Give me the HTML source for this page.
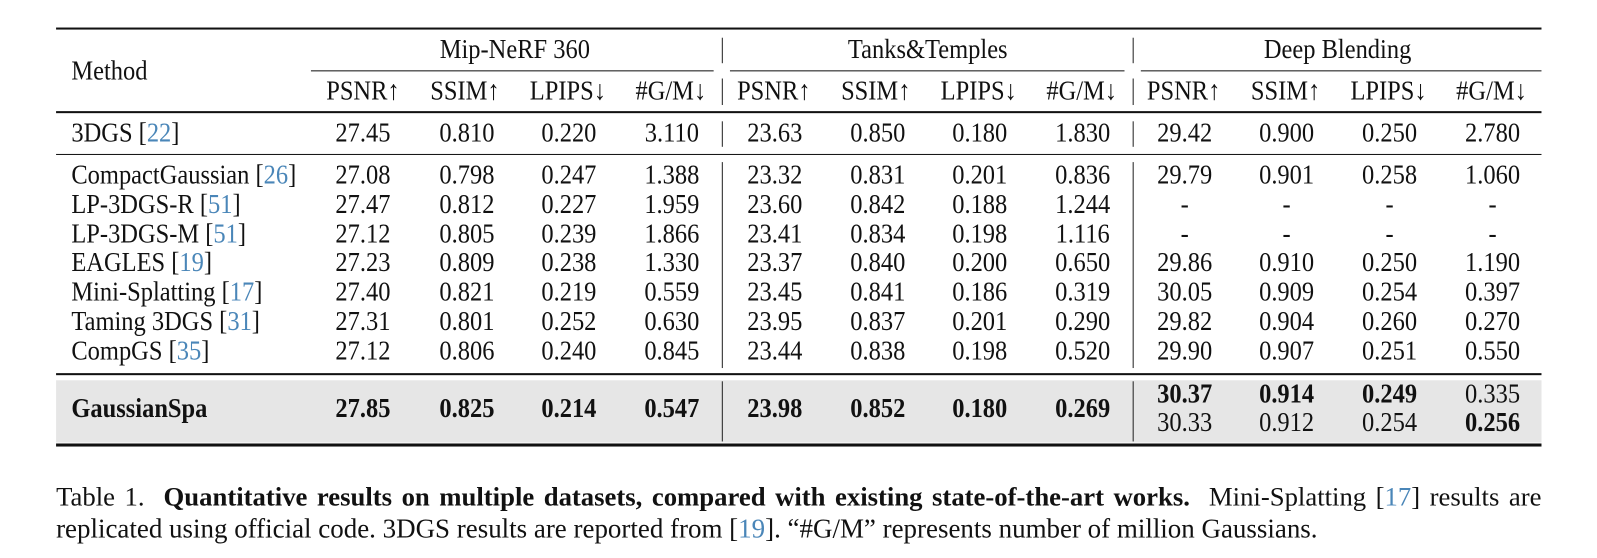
<!DOCTYPE html>
<html><head><meta charset="utf-8">
<style>
html,body{margin:0;padding:0;background:#fff;}
body{width:1597px;height:547px;position:relative;overflow:hidden;font-family:"Liberation Serif","DejaVu Serif",serif;font-size:24px;color:#111;}
#w{position:absolute;left:0;top:0;width:1597px;height:547px;transform:scale(1.0195);transform-origin:0 0;}
.c{position:absolute;transform:translate(-50%,-50%) scaleY(1.12);white-space:nowrap;line-height:1;}
.l{position:absolute;transform:translate(0,-50%) scaleY(1.12);transform-origin:left center;white-space:nowrap;line-height:1;}
.b{font-weight:bold;}
.r{color:#4a86b8;}
.h{position:absolute;background:#111;}
.v{position:absolute;width:1px;background:#222;}
.cap{position:absolute;left:55px;width:1457px;line-height:31px;font-size:26.2px;}
</style></head><body>
<div id="w">
<!-- grey band -->
<div style="position:absolute;left:55px;top:373px;width:1457px;height:61px;background:#e6e6e6;"></div>
<!-- horizontal rules -->
<div class="h" style="left:55px;top:27px;width:1457px;height:2px;"></div>
<div class="h" style="left:305px;top:69px;width:395px;height:1px;"></div>
<div class="h" style="left:716px;top:69px;width:387px;height:1px;"></div>
<div class="h" style="left:1119px;top:69px;width:393px;height:1px;"></div>
<div class="h" style="left:55px;top:109px;width:1457px;height:2px;"></div>
<div class="h" style="left:55px;top:151px;width:1457px;height:1px;"></div>
<div class="h" style="left:55px;top:366px;width:1457px;height:2px;"></div>
<div class="h" style="left:55px;top:435px;width:1457px;height:3px;"></div>
<!-- vertical lines -->
<div class="v" style="left:708px;top:37px;height:25px;"></div>
<div class="v" style="left:708px;top:77px;height:26px;"></div>
<div class="v" style="left:708px;top:119px;height:25px;"></div>
<div class="v" style="left:708px;top:159px;height:202px;"></div>
<div class="v" style="left:708px;top:374px;height:59px;"></div>
<div class="v" style="left:1111px;top:37px;height:25px;"></div>
<div class="v" style="left:1111px;top:77px;height:26px;"></div>
<div class="v" style="left:1111px;top:119px;height:25px;"></div>
<div class="v" style="left:1111px;top:159px;height:202px;"></div>
<div class="v" style="left:1111px;top:374px;height:59px;"></div>

<!-- header -->
<div class="l" style="left:70px;top:70px;">Method</div>
<div class="c" style="left:505px;top:49px;">Mip-NeRF 360</div>
<div class="c" style="left:910px;top:49px;">Tanks&amp;Temples</div>
<div class="c" style="left:1312px;top:49px;">Deep Blending</div>

<div class="c" style="left:356px;top:90px;">PSNR↑</div>
<div class="c" style="left:456px;top:90px;">SSIM↑</div>
<div class="c" style="left:557px;top:90px;">LPIPS↓</div>
<div class="c" style="left:658px;top:90px;">#G/M↓</div>
<div class="c" style="left:759px;top:90px;">PSNR↑</div>
<div class="c" style="left:859px;top:90px;">SSIM↑</div>
<div class="c" style="left:960px;top:90px;">LPIPS↓</div>
<div class="c" style="left:1061px;top:90px;">#G/M↓</div>
<div class="c" style="left:1161px;top:90px;">PSNR↑</div>
<div class="c" style="left:1261px;top:90px;">SSIM↑</div>
<div class="c" style="left:1362px;top:90px;">LPIPS↓</div>
<div class="c" style="left:1463px;top:90px;">#G/M↓</div>

<!-- 3DGS -->
<div class="l" style="left:70px;top:131px;">3DGS [<span class="r">22</span>]</div>
<div class="c" style="left:356px;top:131px;">27.45</div>
<div class="c" style="left:458px;top:131px;">0.810</div>
<div class="c" style="left:558px;top:131px;">0.220</div>
<div class="c" style="left:659px;top:131px;">3.110</div>
<div class="c" style="left:760px;top:131px;">23.63</div>
<div class="c" style="left:861px;top:131px;">0.850</div>
<div class="c" style="left:961px;top:131px;">0.180</div>
<div class="c" style="left:1062px;top:131px;">1.830</div>
<div class="c" style="left:1162px;top:131px;">29.42</div>
<div class="c" style="left:1262px;top:131px;">0.900</div>
<div class="c" style="left:1363px;top:131px;">0.250</div>
<div class="c" style="left:1464px;top:131px;">2.780</div>

<!-- CompactGaussian -->
<div class="l" style="left:70px;top:172px;">CompactGaussian [<span class="r">26</span>]</div>
<div class="c" style="left:356px;top:172px;">27.08</div>
<div class="c" style="left:458px;top:172px;">0.798</div>
<div class="c" style="left:558px;top:172px;">0.247</div>
<div class="c" style="left:659px;top:172px;">1.388</div>
<div class="c" style="left:760px;top:172px;">23.32</div>
<div class="c" style="left:861px;top:172px;">0.831</div>
<div class="c" style="left:961px;top:172px;">0.201</div>
<div class="c" style="left:1062px;top:172px;">0.836</div>
<div class="c" style="left:1162px;top:172px;">29.79</div>
<div class="c" style="left:1262px;top:172px;">0.901</div>
<div class="c" style="left:1363px;top:172px;">0.258</div>
<div class="c" style="left:1464px;top:172px;">1.060</div>

<!-- LP-3DGS-R -->
<div class="l" style="left:70px;top:201px;">LP-3DGS-R [<span class="r">51</span>]</div>
<div class="c" style="left:356px;top:201px;">27.47</div>
<div class="c" style="left:458px;top:201px;">0.812</div>
<div class="c" style="left:558px;top:201px;">0.227</div>
<div class="c" style="left:659px;top:201px;">1.959</div>
<div class="c" style="left:760px;top:201px;">23.60</div>
<div class="c" style="left:861px;top:201px;">0.842</div>
<div class="c" style="left:961px;top:201px;">0.188</div>
<div class="c" style="left:1062px;top:201px;">1.244</div>
<div class="c" style="left:1162px;top:201px;">-</div>
<div class="c" style="left:1262px;top:201px;">-</div>
<div class="c" style="left:1363px;top:201px;">-</div>
<div class="c" style="left:1464px;top:201px;">-</div>

<!-- LP-3DGS-M -->
<div class="l" style="left:70px;top:230px;">LP-3DGS-M [<span class="r">51</span>]</div>
<div class="c" style="left:356px;top:230px;">27.12</div>
<div class="c" style="left:458px;top:230px;">0.805</div>
<div class="c" style="left:558px;top:230px;">0.239</div>
<div class="c" style="left:659px;top:230px;">1.866</div>
<div class="c" style="left:760px;top:230px;">23.41</div>
<div class="c" style="left:861px;top:230px;">0.834</div>
<div class="c" style="left:961px;top:230px;">0.198</div>
<div class="c" style="left:1062px;top:230px;">1.116</div>
<div class="c" style="left:1162px;top:230px;">-</div>
<div class="c" style="left:1262px;top:230px;">-</div>
<div class="c" style="left:1363px;top:230px;">-</div>
<div class="c" style="left:1464px;top:230px;">-</div>

<!-- EAGLES -->
<div class="l" style="left:70px;top:258px;">EAGLES [<span class="r">19</span>]</div>
<div class="c" style="left:356px;top:258px;">27.23</div>
<div class="c" style="left:458px;top:258px;">0.809</div>
<div class="c" style="left:558px;top:258px;">0.238</div>
<div class="c" style="left:659px;top:258px;">1.330</div>
<div class="c" style="left:760px;top:258px;">23.37</div>
<div class="c" style="left:861px;top:258px;">0.840</div>
<div class="c" style="left:961px;top:258px;">0.200</div>
<div class="c" style="left:1062px;top:258px;">0.650</div>
<div class="c" style="left:1162px;top:258px;">29.86</div>
<div class="c" style="left:1262px;top:258px;">0.910</div>
<div class="c" style="left:1363px;top:258px;">0.250</div>
<div class="c" style="left:1464px;top:258px;">1.190</div>

<!-- Mini-Splatting -->
<div class="l" style="left:70px;top:287px;">Mini-Splatting [<span class="r">17</span>]</div>
<div class="c" style="left:356px;top:287px;">27.40</div>
<div class="c" style="left:458px;top:287px;">0.821</div>
<div class="c" style="left:558px;top:287px;">0.219</div>
<div class="c" style="left:659px;top:287px;">0.559</div>
<div class="c" style="left:760px;top:287px;">23.45</div>
<div class="c" style="left:861px;top:287px;">0.841</div>
<div class="c" style="left:961px;top:287px;">0.186</div>
<div class="c" style="left:1062px;top:287px;">0.319</div>
<div class="c" style="left:1162px;top:287px;">30.05</div>
<div class="c" style="left:1262px;top:287px;">0.909</div>
<div class="c" style="left:1363px;top:287px;">0.254</div>
<div class="c" style="left:1464px;top:287px;">0.397</div>

<!-- Taming 3DGS -->
<div class="l" style="left:70px;top:316px;">Taming 3DGS [<span class="r">31</span>]</div>
<div class="c" style="left:356px;top:316px;">27.31</div>
<div class="c" style="left:458px;top:316px;">0.801</div>
<div class="c" style="left:558px;top:316px;">0.252</div>
<div class="c" style="left:659px;top:316px;">0.630</div>
<div class="c" style="left:760px;top:316px;">23.95</div>
<div class="c" style="left:861px;top:316px;">0.837</div>
<div class="c" style="left:961px;top:316px;">0.201</div>
<div class="c" style="left:1062px;top:316px;">0.290</div>
<div class="c" style="left:1162px;top:316px;">29.82</div>
<div class="c" style="left:1262px;top:316px;">0.904</div>
<div class="c" style="left:1363px;top:316px;">0.260</div>
<div class="c" style="left:1464px;top:316px;">0.270</div>

<!-- CompGS -->
<div class="l" style="left:70px;top:345px;">CompGS [<span class="r">35</span>]</div>
<div class="c" style="left:356px;top:345px;">27.12</div>
<div class="c" style="left:458px;top:345px;">0.806</div>
<div class="c" style="left:558px;top:345px;">0.240</div>
<div class="c" style="left:659px;top:345px;">0.845</div>
<div class="c" style="left:760px;top:345px;">23.44</div>
<div class="c" style="left:861px;top:345px;">0.838</div>
<div class="c" style="left:961px;top:345px;">0.198</div>
<div class="c" style="left:1062px;top:345px;">0.520</div>
<div class="c" style="left:1162px;top:345px;">29.90</div>
<div class="c" style="left:1262px;top:345px;">0.907</div>
<div class="c" style="left:1363px;top:345px;">0.251</div>
<div class="c" style="left:1464px;top:345px;">0.550</div>

<!-- GaussianSpa -->
<div class="l b" style="left:70px;top:401px;">GaussianSpa</div>
<div class="c b" style="left:356px;top:401px;">27.85</div>
<div class="c b" style="left:458px;top:401px;">0.825</div>
<div class="c b" style="left:558px;top:401px;">0.214</div>
<div class="c b" style="left:659px;top:401px;">0.547</div>
<div class="c b" style="left:760px;top:401px;">23.98</div>
<div class="c b" style="left:861px;top:401px;">0.852</div>
<div class="c b" style="left:961px;top:401px;">0.180</div>
<div class="c b" style="left:1062px;top:401px;">0.269</div>
<div class="c b" style="left:1162px;top:387px;">30.37</div>
<div class="c b" style="left:1262px;top:387px;">0.914</div>
<div class="c b" style="left:1363px;top:387px;">0.249</div>
<div class="c" style="left:1464px;top:387px;">0.335</div>
<div class="c" style="left:1162px;top:415px;">30.33</div>
<div class="c" style="left:1262px;top:415px;">0.912</div>
<div class="c" style="left:1363px;top:415px;">0.254</div>
<div class="c b" style="left:1464px;top:415px;">0.256</div>

<!-- caption -->
<div class="cap" style="top:472px;text-align:justify;text-align-last:justify;white-space:nowrap;">Table 1.&nbsp; <b>Quantitative results on multiple datasets, compared with existing state-of-the-art works.</b>&nbsp; Mini-Splatting [<span class="r">17</span>] results are</div>
<div class="cap" style="top:503px;font-size:26.45px;">replicated using official code. 3DGS results are reported from [<span class="r">19</span>]. “#G/M” represents number of million Gaussians.</div>
</div>
</body></html>
